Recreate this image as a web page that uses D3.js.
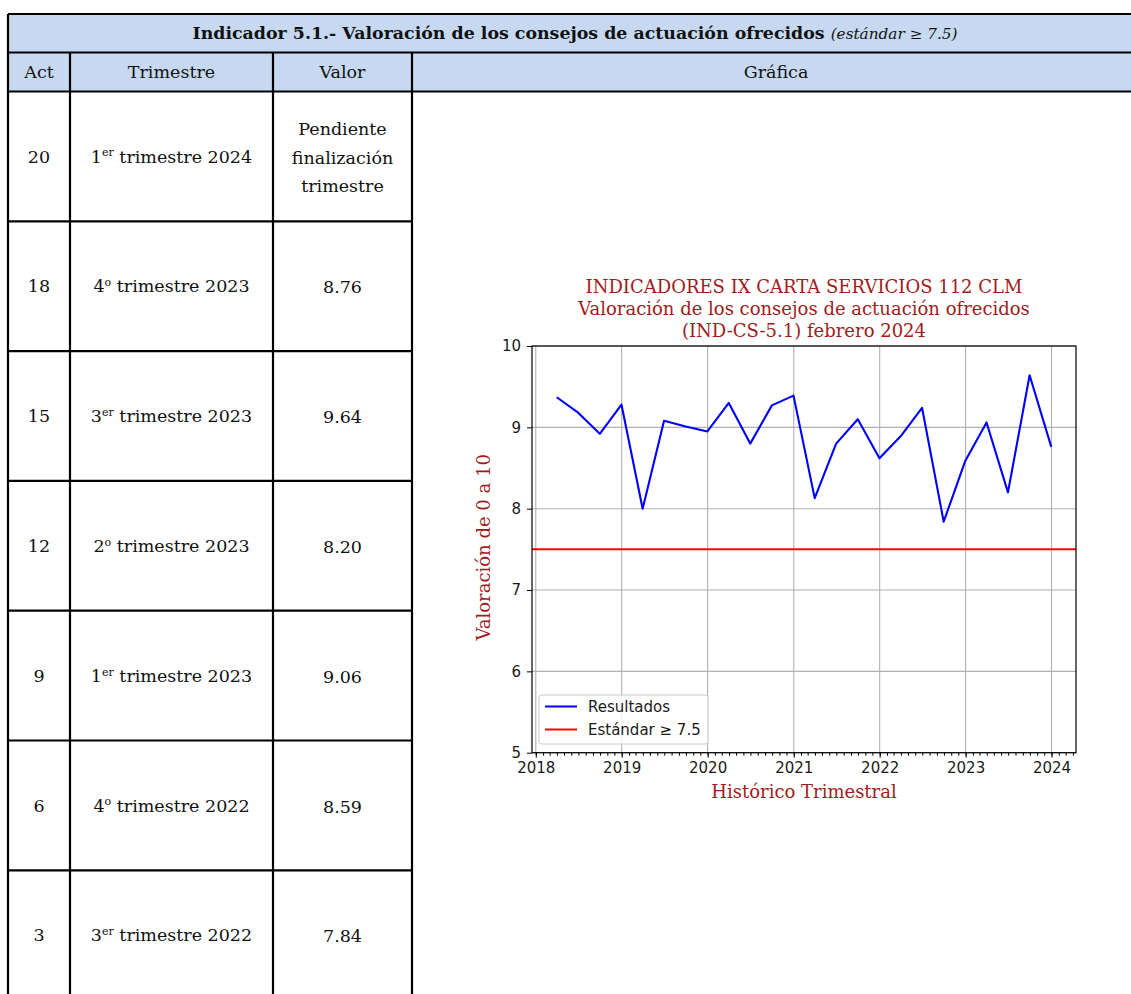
<!DOCTYPE html>
<html>
<head>
<meta charset="utf-8">
<script src="https://cdn.jsdelivr.net/npm/d3@7"></script>
<style>
  body { margin: 0; background: #fff; }
  svg { display: block; }
</style>
</head>
<body>
<svg id="page"></svg>
<script>
// table data
const acts = [20, 18, 15, 12, 9, 6, 3];
const trimestres = ["1er trimestre 2024", "4o trimestre 2023", "3er trimestre 2023", "2o trimestre 2023",
  "1er trimestre 2023", "4o trimestre 2022", "3er trimestre 2022"];
const valores = [["Pendiente", "finalización", "trimestre"], "8.76", "9.64", "8.20", "9.06", "8.59", "7.84"];

// chart data (one value per quarter, plotted at end of quarter)
const quarterEnds = [
  "2018-03-31", "2018-06-30", "2018-09-30", "2018-12-31",
  "2019-03-31", "2019-06-30", "2019-09-30", "2019-12-31",
  "2020-03-31", "2020-06-30", "2020-09-30", "2020-12-31",
  "2021-03-31", "2021-06-30", "2021-09-30", "2021-12-31",
  "2022-03-31", "2022-06-30", "2022-09-30", "2022-12-31",
  "2023-03-31", "2023-06-30", "2023-09-30", "2023-12-31"
];
const resultados = [
  9.37, 9.18, 8.92, 9.28,
  8.00, 9.08, 9.01, 8.95,
  9.30, 8.80, 9.27, 9.39,
  8.13, 8.80, 9.10, 8.62,
  8.89, 9.24, 7.84, 8.59,
  9.06, 8.20, 9.64, 8.76
];
const estandar = 7.5;
const yTicks = [5, 6, 7, 8, 9, 10];
const titleLines = ["INDICADORES IX CARTA SERVICIOS 112 CLM",
  "Valoración de los consejos de actuación ofrecidos", "(IND-CS-5.1) febrero 2024"];

const W = 1131, H = 994;
const svg = d3.select("#page").attr("width", W).attr("height", H);

// ---------- table ----------
const tblLeft = 8, tblRight = 1140;
const colX = [tblLeft, 70, 273, 412];
const headTop = 14, head1 = 52.5, head2 = 91.5;
const rowH = 129.8;
const serif = "DejaVu Serif";
const headBlue = "#c6d9f0";

svg.append("rect").attr("x", tblLeft).attr("y", headTop)
  .attr("width", tblRight - tblLeft).attr("height", head2 - headTop)
  .attr("fill", headBlue);

const title = svg.append("text")
  .attr("x", 575).attr("y", 33).attr("dy", "0.35em")
  .attr("text-anchor", "middle")
  .attr("font-family", serif).attr("font-size", 16.5).attr("fill", "#111")
  .attr("textLength", 765).attr("lengthAdjust", "spacingAndGlyphs");
title.append("tspan").attr("font-weight", "bold")
  .text("Indicador 5.1.- Valoración de los consejos de actuación ofrecidos ");
title.append("tspan").attr("font-style", "italic").attr("font-size", 14.5)
  .text("(estándar ≥ 7.5)");

const headers = ["Act", "Trimestre", "Valor", "Gráfica"];
const headCx = [39, 171.5, 342.5, 776];
headers.forEach((h, i) => {
  svg.append("text")
    .attr("x", headCx[i]).attr("y", 72).attr("dy", "0.35em")
    .attr("text-anchor", "middle")
    .attr("font-family", serif).attr("font-size", 17.5).attr("fill", "#111")
    .text(h);
});

const rows = svg.append("g");
acts.forEach((a, i) => {
  const cy = head2 + rowH * i + rowH / 2;
  rows.append("text")
    .attr("x", headCx[0]).attr("y", cy).attr("dy", "0.35em")
    .attr("text-anchor", "middle")
    .attr("font-family", serif).attr("font-size", 17.5).attr("fill", "#111")
    .text(a);

  const m = trimestres[i].match(/^(\d)(er|o) (.*)$/);
  const t = rows.append("text")
    .attr("x", headCx[1]).attr("y", cy).attr("dy", "0.35em")
    .attr("text-anchor", "middle")
    .attr("font-family", serif).attr("font-size", 17.5).attr("fill", "#111");
  t.append("tspan").text(m[1]);
  t.append("tspan").attr("font-size", 11).attr("dy", "-0.55em").text(m[2]);
  t.append("tspan").attr("dy", "0.35em").text(" " + m[3]);

  const v = valores[i];
  const lines = Array.isArray(v) ? v : [v];
  lines.forEach((ln, j) => {
    rows.append("text")
      .attr("x", headCx[2]).attr("y", cy + 1 + (j - (lines.length - 1) / 2) * 28.5)
      .attr("dy", "0.35em")
      .attr("text-anchor", "middle")
      .attr("font-family", serif).attr("font-size", 17.5).attr("fill", "#111")
      .text(ln);
  });
});

// borders
const border = svg.append("g").attr("stroke", "#000").attr("stroke-width", 2.2);
[headTop, head1, head2].forEach(y => border.append("line")
  .attr("x1", tblLeft).attr("x2", tblRight).attr("y1", y).attr("y2", y));
acts.forEach((a, i) => {
  const y = head2 + rowH * (i + 1);
  border.append("line").attr("x1", tblLeft).attr("x2", colX[3]).attr("y1", y).attr("y2", y);
});
border.append("line").attr("x1", tblLeft).attr("x2", tblLeft).attr("y1", headTop).attr("y2", H + 5);
colX.slice(1).forEach(x => border.append("line")
  .attr("x1", x).attr("x2", x).attr("y1", head1).attr("y2", H + 5));

// ---------- chart ----------
const plot = { left: 532, right: 1076, top: 346, bottom: 752.7 };
const parse = d3.timeParse("%Y-%m-%d");
const dates = quarterEnds.map(parse);
const points = dates.map((d, i) => ({ date: d, value: resultados[i] }));

const t0 = +dates[0], t1 = +dates[dates.length - 1];
const pad = (t1 - t0) * 0.05;
const x = d3.scaleTime()
  .domain([new Date(t0 - pad), new Date(t1 + pad)])
  .range([plot.left, plot.right]);
const y = d3.scaleLinear().domain([5, 10]).range([plot.bottom, plot.top]);

const chart = svg.append("g");
const red = "#a01c1c";

// grid
const yearTicks = x.ticks(d3.timeYear.every(1));
chart.append("g").selectAll("line").data(yearTicks).join("line")
  .attr("x1", d => x(d)).attr("x2", d => x(d))
  .attr("y1", plot.top).attr("y2", plot.bottom)
  .attr("stroke", "#b0b0b0").attr("stroke-width", 1.1);
chart.append("g").selectAll("line").data(yTicks).join("line")
  .attr("x1", plot.left).attr("x2", plot.right)
  .attr("y1", d => y(d)).attr("y2", d => y(d))
  .attr("stroke", "#b0b0b0").attr("stroke-width", 1.1);

// standard line
chart.append("line")
  .attr("x1", plot.left).attr("x2", plot.right)
  .attr("y1", y(estandar)).attr("y2", y(estandar))
  .attr("stroke", "#ff0000").attr("stroke-width", 2);

// results line
chart.append("path").datum(points)
  .attr("fill", "none").attr("stroke", "#0000ff").attr("stroke-width", 2.1)
  .attr("stroke-linejoin", "round")
  .attr("d", d3.line().x(d => x(d.date)).y(d => y(d.value)));

// spines
chart.append("rect")
  .attr("x", plot.left).attr("y", plot.top)
  .attr("width", plot.right - plot.left).attr("height", plot.bottom - plot.top)
  .attr("fill", "none").attr("stroke", "#000").attr("stroke-width", 1.2);

// axes
chart.append("g").attr("transform", `translate(0,${plot.bottom})`)
  .call(d3.axisBottom(x).ticks(d3.timeYear.every(1)).tickFormat(d3.timeFormat("%Y"))
    .tickSizeInner(5).tickSizeOuter(0).tickPadding(5));
chart.append("g").attr("transform", `translate(0,${plot.bottom})`)
  .call(d3.axisBottom(x).ticks(d3.timeMonth.every(1)).tickFormat("")
    .tickSizeInner(3).tickSizeOuter(0));
chart.append("g").attr("transform", `translate(${plot.left},0)`)
  .call(d3.axisLeft(y).tickValues(yTicks).tickFormat(d3.format("d"))
    .tickSizeInner(5).tickSizeOuter(0).tickPadding(6));

chart.selectAll(".domain").remove();
chart.selectAll(".tick line").attr("stroke", "#000").attr("stroke-width", 1);
chart.selectAll(".tick text")
  .attr("font-family", "DejaVu Sans").attr("font-size", 15).attr("fill", "#1a1a1a");

// titles
titleLines.forEach((ln, i) => {
  chart.append("text")
    .attr("x", (plot.left + plot.right) / 2).attr("y", 287 + i * 21.6).attr("dy", "0.35em")
    .attr("text-anchor", "middle")
    .attr("font-family", serif).attr("font-size", 18).attr("fill", red)
    .text(ln);
});
chart.append("text")
  .attr("x", (plot.left + plot.right) / 2).attr("y", 792).attr("dy", "0.35em")
  .attr("text-anchor", "middle")
  .attr("font-family", serif).attr("font-size", 18).attr("fill", red)
  .text("Histórico Trimestral");
chart.append("text")
  .attr("transform", `translate(484,${(plot.top + plot.bottom) / 2 - 2}) rotate(-90)`)
  .attr("dy", "0.35em")
  .attr("text-anchor", "middle")
  .attr("font-family", serif).attr("font-size", 18).attr("fill", red)
  .text("Valoración de 0 a 10");

// legend
const legend = chart.append("g");
legend.append("rect")
  .attr("x", 539).attr("y", 695).attr("width", 169).attr("height", 49).attr("rx", 3)
  .attr("fill", "#fff").attr("fill-opacity", 0.8)
  .attr("stroke", "#cccccc").attr("stroke-width", 1);
const legendItems = [
  { label: "Resultados", color: "#0000ff" },
  { label: "Estándar ≥ 7.5", color: "#ff0000" }
];
legendItems.forEach((it, i) => {
  const ly = 706.5 + i * 23;
  legend.append("line")
    .attr("x1", 545).attr("x2", 577).attr("y1", ly).attr("y2", ly)
    .attr("stroke", it.color).attr("stroke-width", 2);
  legend.append("text")
    .attr("x", 588).attr("y", ly).attr("dy", "0.35em")
    .attr("font-family", "DejaVu Sans").attr("font-size", 15).attr("fill", "#1a1a1a")
    .text(it.label);
});
</script>
</body>
</html>
